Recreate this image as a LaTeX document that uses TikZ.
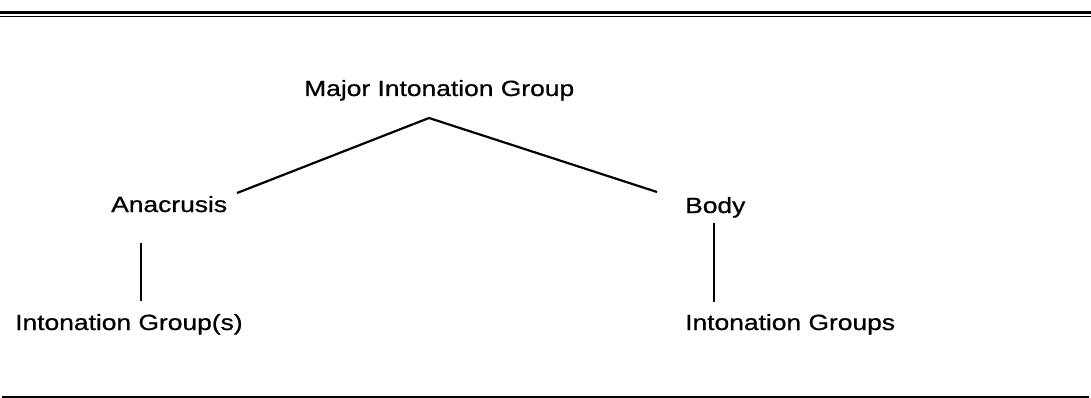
\documentclass[tikz,border=0pt]{standalone}
\usepackage{fontspec}
\setmainfont{Liberation Sans}
\newfontfamily\lblfont{Liberation Sans}[FakeBold=0.7]
\begin{document}
\begin{tikzpicture}[x=1pt,y=-1pt,
  lbl/.style={anchor=base west,inner sep=0pt,font=\lblfont\fontsize{22}{26}\selectfont},
  branch/.style={line width=2.2pt},
  stem/.style={line width=1.8pt}]
\useasboundingbox (0,0) rectangle (1091,398);
% rules
\draw[line width=3pt] (0,12.5) -- (1091,12.5);
\draw[line width=1.5pt] (0,16.5) -- (1091,16.5);
\draw[line width=2pt] (2,396.5) -- (1089,396.5);
% labels
\node[lbl] (major) at (304,96) {\scalebox{1.2}[1]{Major Intonation Group}};
\node[lbl] (ana) at (111,212) {\scalebox{1.2}[1]{Anacrusis}};
\node[lbl] (body) at (685,213) {\scalebox{1.2}[1]{Body}};
\node[lbl] (igs) at (15,330) {\scalebox{1.2}[1]{Intonation Group(s)}};
\node[lbl] (ig) at (685,330) {\scalebox{1.2}[1]{Intonation Groups}};
% connector points
\coordinate (apex) at (429,118);
\coordinate (lend) at (237,193);
\coordinate (rend) at (657,192);
\coordinate (atop) at (141,243);
\coordinate (abot) at (141,301);
\coordinate (btop) at (714,223);
\coordinate (bbot) at (714,302);
\draw[branch] (lend) -- (apex) -- (rend);
\draw[stem] (atop) -- (abot);
\draw[stem] (btop) -- (bbot);
\end{tikzpicture}
\end{document}
